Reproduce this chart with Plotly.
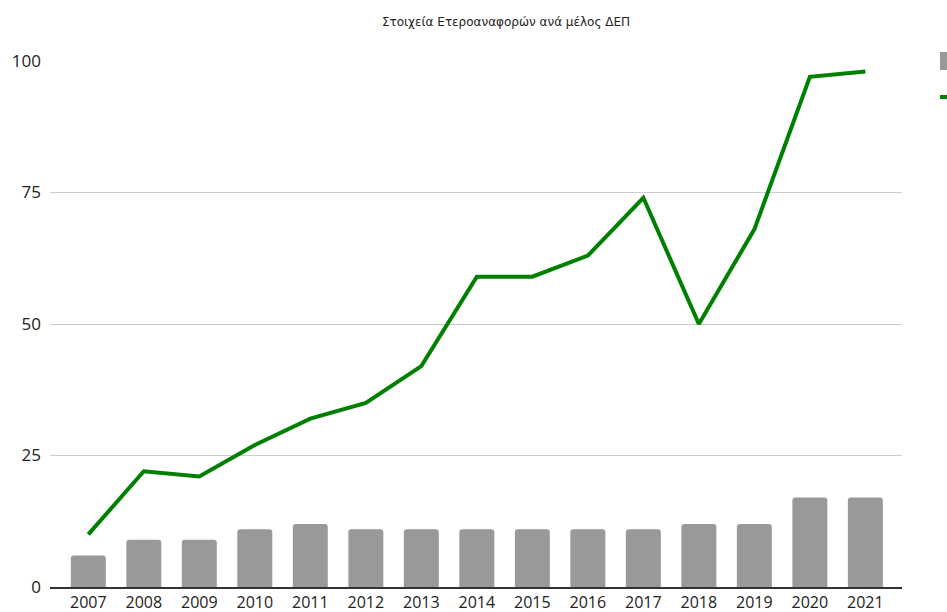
import plotly.graph_objects as go

years = ["2007", "2008", "2009", "2010", "2011", "2012", "2013", "2014",
         "2015", "2016", "2017", "2018", "2019", "2020", "2021"]
bar_values = [6, 9, 9, 11, 12, 11, 11, 11, 11, 11, 11, 12, 12, 17, 17]
line_values = [10, 22, 21, 27, 32, 35, 42, 59, 59, 63, 74, 50, 68, 97, 98]
y_ticks = [0, 25, 50, 75, 100]
title_text = "Στοιχεία Ετεροαναφορών ανά μέλος ΔΕΠ"

W, H = 947, 612
ml, mr, mt, mb = 50, 45, 61, 25

fig = go.Figure()
fig.add_trace(go.Bar(
    x=years, y=bar_values, width=0.63,
    marker=dict(color="#999999", cornerradius=3, line=dict(width=0)),
    showlegend=False,
))
fig.add_trace(go.Scatter(
    x=years, y=line_values, mode="lines",
    line=dict(color="#008000", width=4),
    showlegend=False,
))

# legend symbols (cut off at the right edge, as in the reference)
def px_x(px):
    return (px - ml) / (W - ml - mr)

def px_y(py):
    return (H - mb - py) / (H - mt - mb)

fig.add_shape(type="rect", xref="paper", yref="paper",
              x0=px_x(940), x1=px_x(958), y0=px_y(70), y1=px_y(52),
              fillcolor="#999999", line=dict(width=0), layer="above")
fig.add_shape(type="line", xref="paper", yref="paper",
              x0=px_x(940), x1=px_x(975), y0=px_y(97), y1=px_y(97),
              line=dict(color="#008000", width=4))

fig.update_layout(
    width=W, height=H,
    margin=dict(l=ml, r=mr, t=mt, b=mb, autoexpand=False),
    paper_bgcolor="white", plot_bgcolor="white",
    font=dict(family="Open Sans, Liberation Sans, Arial, sans-serif", size=17, color="#222222"),
    title=dict(text=title_text, x=506 / W, xanchor="center",
               y=1 - 22 / H, yanchor="middle",
               font=dict(family="DejaVu Sans, sans-serif", size=12, color="#222222")),
    xaxis=dict(type="category", range=[-0.69, 14.66], showgrid=False, automargin=False,
               showline=True, linecolor="#333333", linewidth=1.5,
               ticks="", ticklabelstandoff=0, tickfont=dict(size=16)),
    yaxis=dict(range=[0, 100], tickvals=y_ticks, showgrid=True, gridcolor="#cccccc",
               gridwidth=1, zeroline=False, showline=False, ticks="", automargin=False,
               ticklabelstandoff=8, tickfont=dict(size=17)),
)

fig.write_html(
    "out.html",
    config={"displayModeBar": False},
    post_script="document.body.style.margin='0';document.body.style.overflow='hidden';",
)
